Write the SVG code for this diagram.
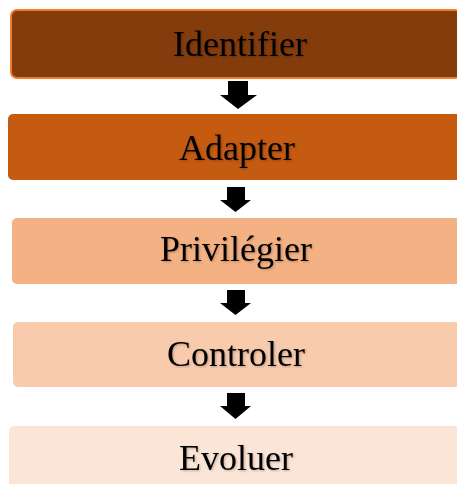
<svg xmlns="http://www.w3.org/2000/svg" width="457" height="484" viewBox="0 0 457 484">
  <defs>
    <filter id="soft-shadow" x="-10%" y="-20%" width="120%" height="150%">
      <feDropShadow dx="1" dy="1" stdDeviation="1" flood-color="#000" flood-opacity="0.25"/>
    </filter>
  </defs>
  <style>
    .label { font-family: "Liberation Serif", "Times New Roman", serif; font-size: 36px; fill: #000; text-anchor: middle; filter: url(#soft-shadow); }
    .arrow { fill: #000; }
  </style>

  <rect width="457" height="484" fill="#fff"/>

  <!-- step boxes -->
  <g id="node-identifier">
    <rect x="11" y="10" width="450" height="68" rx="6" fill="#843C0C" stroke="#ED7D31" stroke-width="2"/>
    <text class="label" x="240" y="56">Identifier</text>
  </g>
  <g id="node-adapter">
    <rect x="8" y="114" width="455" height="66" rx="5" fill="#C55A11"/>
    <text class="label" x="237" y="160">Adapter</text>
  </g>
  <g id="node-privilegier">
    <rect x="12" y="218" width="450" height="66" rx="5" fill="#F4B183"/>
    <text class="label" x="236" y="261">Privilégier</text>
  </g>
  <g id="node-controler">
    <rect x="13" y="322" width="450" height="65" rx="5" fill="#F8CBAD"/>
    <text class="label" x="236" y="366">Controler</text>
  </g>
  <g id="node-evoluer">
    <rect x="9" y="426" width="455" height="70" rx="5" fill="#FBE5D6"/>
    <text class="label" x="236" y="470">Evoluer</text>
  </g>

  <!-- block arrows between steps -->
  <g id="connectors">
    <polygon class="arrow" points="228,81 248,81 248,95 257,95 238,109 220,95 228,95"/>
    <polygon class="arrow" points="227,187 245,187 245,200 251,200 235.5,212 220,200 227,200"/>
    <polygon class="arrow" points="227,290 245,290 245,303 251,303 235.5,315 220,303 227,303"/>
    <polygon class="arrow" points="227,393 245,393 245,406 251,406 235.5,419 220,406 227,406"/>
  </g>
</svg>
